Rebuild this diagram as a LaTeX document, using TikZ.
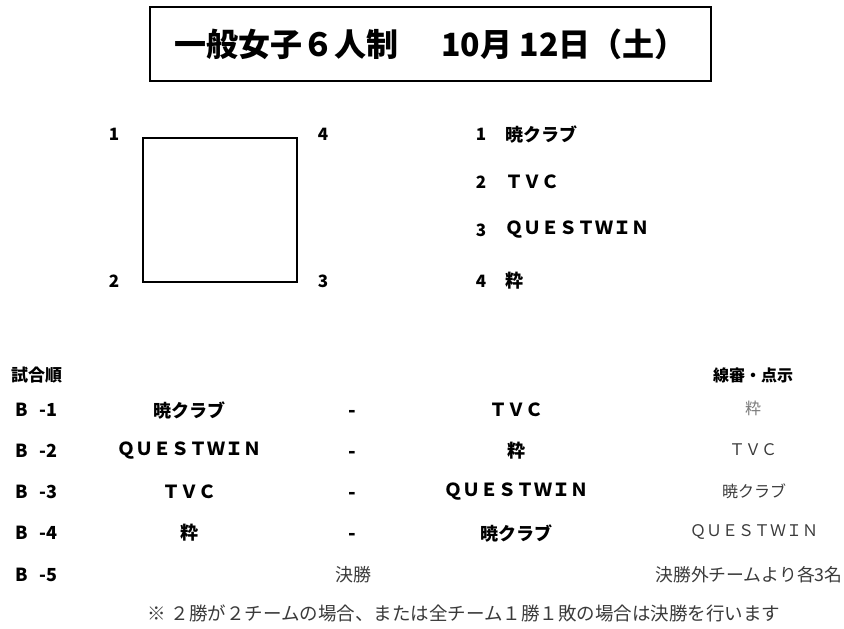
\documentclass[tikz,border=0pt]{standalone}
\usepackage{fontspec}
\setmainfont{Noto Sans CJK JP}
\usepackage{tikz}
\usetikzlibrary{calc}
\definecolor{ink}{HTML}{000000}
\definecolor{soft}{HTML}{3A3A3A}
\definecolor{pale}{HTML}{7A7A7A}
\tikzset{
  frame/.style={draw=ink, line width=2pt},
  head/.style={text=ink, font=\fontsize{32}{36}\selectfont\bfseries, inner sep=0pt},
  lab/.style={text=ink, font=\fontsize{17}{19}\selectfont\bfseries, inner sep=0pt},
  team/.style={text=ink, font=\fontsize{18}{20}\selectfont\bfseries, inner sep=0pt},
  vsmark/.style={text=ink, font=\fontsize{20}{22}\selectfont\bfseries, inner sep=0pt},
  duty/.style={text=soft, font=\fontsize{18}{20}\selectfont, inner sep=0pt},
  refteam/.style={text=soft, font=\fontsize{16}{18}\selectfont, inner sep=0pt},
}
\begin{document}
\begin{tikzpicture}[x=1pt, y=-1pt]
\useasboundingbox (0,0) rectangle (844,629);
% title
\node[frame, head, minimum width=561pt, minimum height=74pt] (title) at (430.5,44) {一般女子６人制\hspace{43pt}10月 12日（土）\hspace{10pt}};
% court
\coordinate (c1) at (143,138);
\coordinate (c3) at (297,282);
\draw[frame, line width=1.8pt] (c1) rectangle (c3);
\node[lab] (p1) at (114,134) {1};
\node[lab] (p4) at (323,134) {4};
\node[lab] (p2) at (114,281) {2};
\node[lab] (p3) at (323,281) {3};
% teams
\node[lab] (n1) at (481,134) {1};
\node[team, anchor=west] (t1) at (505,134) {暁クラブ};
\node[lab] (n2) at (481,182) {2};
\node[team, anchor=west] (t2) at (505,182) {ＴＶＣ};
\node[lab] (n3) at (481,230) {3};
\node[team, anchor=west] (t3) at (505,230) {ＱＵＥＳＴＷＩＮ};
\node[lab] (n4) at (481,281) {4};
\node[team, anchor=west] (t4) at (505,281) {粋};
% order
\node[lab, anchor=west] (order) at (11,375) {試合順};
\node[lab, font=\fontsize{16}{18}\selectfont\bfseries] (duties) at (753,375) {線審・点示};
\node[team, anchor=west] (b1) at (15,410) {B\hspace{12pt}-1};
\node[team] (b1home) at (189,410) {暁クラブ};
\node[vsmark] (b1vs) at (352,414) {-};
\node[team] (b1away) at (516,410) {ＴＶＣ};
\node[refteam, text=pale] (b1ref) at (753,408) {粋};
\node[team, anchor=west] (b2) at (15,451) {B\hspace{12pt}-2};
\node[team] (b2home) at (189,451) {ＱＵＥＳＴＷＩＮ};
\node[vsmark] (b2vs) at (352,455) {-};
\node[team] (b2away) at (516,451) {粋};
\node[refteam] (b2ref) at (753,450) {ＴＶＣ};
\node[team, anchor=west] (b3) at (15,492) {B\hspace{12pt}-3};
\node[team] (b3home) at (189,492) {ＴＶＣ};
\node[vsmark] (b3vs) at (352,496) {-};
\node[team] (b3away) at (516,492) {ＱＵＥＳＴＷＩＮ};
\node[refteam] (b3ref) at (754,491) {暁クラブ};
\node[team, anchor=west] (b4) at (15,533) {B\hspace{12pt}-4};
\node[team] (b4home) at (189,533) {粋};
\node[vsmark] (b4vs) at (352,537) {-};
\node[team] (b4away) at (516,533) {暁クラブ};
\node[refteam] (b4ref) at (754,532) {ＱＵＥＳＴＷＩＮ};
\node[team, anchor=west] (b5) at (15,575) {B\hspace{12pt}-5};
\node[duty] (b5match) at (353,575) {決勝};
\node[duty, font=\fontsize{17.8}{20}\selectfont] (b5ref) at (749,575) {決勝外チームより各3名};
% note
\node[duty, font=\fontsize{18.5}{20}\selectfont] (note) at (464,613) {※ ２勝が２チームの場合、または全チーム１勝１敗の場合は決勝を行います};
\end{tikzpicture}
\end{document}
